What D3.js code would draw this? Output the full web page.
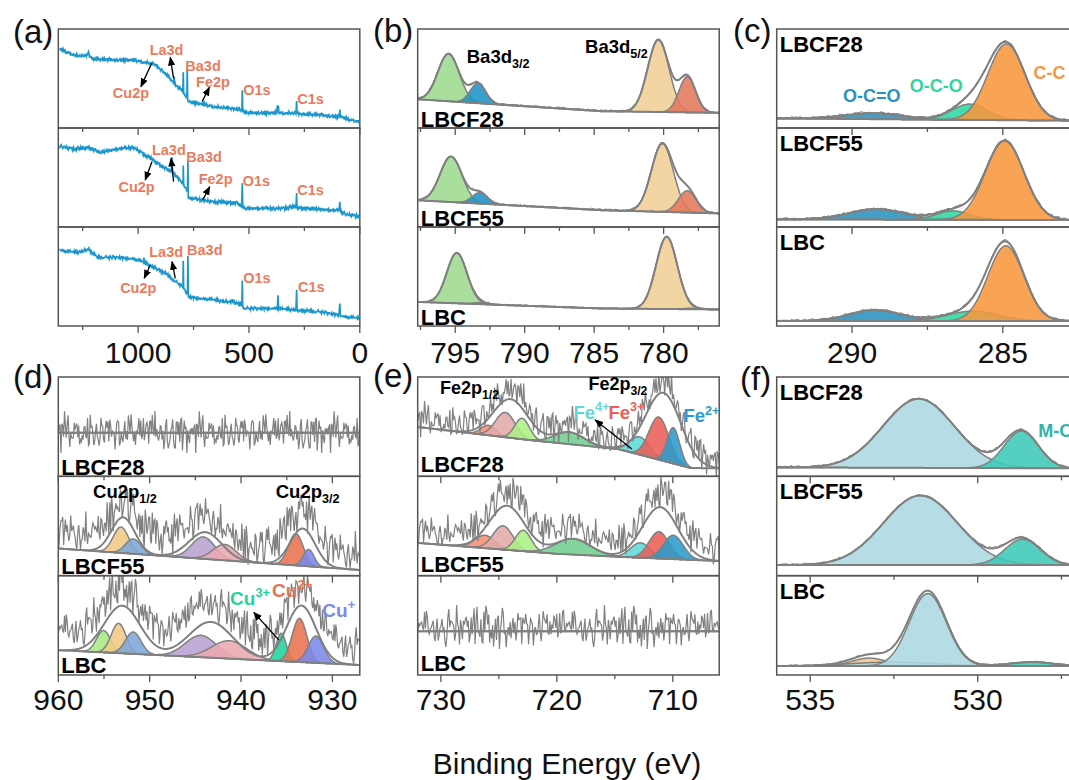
<!DOCTYPE html>
<html>
<head>
<meta charset="utf-8">
<script src="https://cdn.jsdelivr.net/npm/d3@7"></script>
<style>
body { margin: 0; background: #fff; }
svg { display: block; font-family: Arial, "Liberation Sans", sans-serif; }
</style>
</head>
<body>
<svg id="chart" width="1069" height="780"></svg>
<script>
// samples, top to bottom in every panel
var samples = ["LBCF28", "LBCF55", "LBC"];
var panelNames = ["(a)", "(b)", "(c)", "(d)", "(e)", "(f)"];

// binding energy axes (eV), high -> low
var aDomain = [1360, 0], aTicks = [1000, 500, 0], aMinor = [1250, 750, 250];
var bDomain = [797.7, 776], bTicks = [795, 790, 785, 780], bMinor = [797.5, 792.5, 787.5, 782.5, 777.5];
var cDomain = [292.5, 282.5], cTicks = [290, 285], cMinor = [287.5];
var dDomain = [960, 927], dTicks = [960, 950, 940, 930], dMinor = [955, 945, 935];
var eDomain = [732, 706], eTicks = [730, 720, 710], eMinor = [725, 715];
var fDomain = [536, 527], fTicks = [535, 530], fMinor = [532.5, 527.5];

// (a) survey spectra: [eV, intensity] (intensity 0-100 inside each strip)
var surveyLBCF28 = [[1354,80],[1320,76.3],[1290,74],[1275,73],[1230,73],[1224,77],[1218,72],[1200,69.7],[1150,69],[1095,68.7],[1019,68.7],[974,66.3],[929,64.7],[891,58],[854,49.7],[840,45],[837,52],[834,44],[831,43],[805,38.5],[798,37],[796.4,56.3],[794.5,35],[780,31],[778.4,59.7],[776.5,29],[770,27],[763,26.3],[705,24],[658,21.3],[568,19.7],[537,18],[532,18],[530,38],[528,16.5],[515,15.3],[374,15.3],[372,22.5],[367,22.5],[365,15],[288,15],[285,27.3],[283,14.5],[176,13],[94,11.3],[90,18.7],[88,12],[56,8.7],[30,7.5],[0,6.3]];
var surveyLBCF55 = [[1354,82],[1320,80],[1275,78.7],[1222,80.3],[1170,75.3],[1095,78.7],[1019,80.3],[974,73.7],[929,67],[884,60.3],[850,56],[847,70],[844,55],[800,44.5],[797,43.7],[796.4,62],[794.5,42],[777,36],[775.4,67],[773.5,30],[763,28.7],[703,27],[658,25.3],[553,24.3],[533,21],[530,44.3],[528,20],[515,18.7],[372,18.7],[288,20.3],[285,34.3],[283,19.5],[176,17.7],[94,16.3],[90,25.3],[88,15.5],[56,12.7],[0,11]];
var surveyLBC = [[1354,76.7],[1320,75],[1275,74.3],[1222,77.7],[1185,69.3],[1095,69.3],[1019,67.7],[976,64.3],[974,69],[972,64],[929,59.3],[884,54.3],[839,46],[800,40],[797.5,39.3],[796.4,66],[794.5,37],[777,33],[775.4,71],[773.5,30],[771,29.3],[718,27.7],[583,24.3],[570,26],[566,23.5],[537,21],[532,20.5],[530,46],[528,19],[515,17.7],[372,17.7],[369,31],[366,17],[288,16.5],[285,36.7],[283,15.8],[176,14.3],[94,11],[90,22.7],[88,10.5],[56,8.7],[0,7.7]];
var surveys = [surveyLBCF28, surveyLBCF55, surveyLBC];
// survey annotations: [text, eV, y] and arrows [eV1, y1, eV2, y2] (head at 2)
var aNotes = [
  [["Cu2p",1114,30],["La3d",948,73.7],["Ba3d",787,57.9],["Fe2p",738.6,41.7],["O1s",526,33.3],["C1s",281.8,24.2]],
  [["Cu2p",1088.6,35.4],["La3d",937.6,72.7],["Ba3d",782.4,66],["Fe2p",726.8,43.4],["O1s",527.8,41.4],["C1s",281.8,32.8]],
  [["Cu2p",1081,33],["La3d",949.8,69.4],["Ba3d",779.3,71.4],["O1s",526,43.9],["C1s",279.1,34.3]]
];
var aArrows = [
  [[937.6,66,987.3,41.8],[839.9,50.2,854.8,71.4],[711.4,26.6,678.4,41.1]],
  [[937.6,66,967.9,47.5],[839.9,45.8,851.6,69.4],[708.7,27.3,677,40.7]],
  [[945.2,61.6,972.4,48.2],[832.2,48.2,847.1,64.9]]
];

// fitted components: [centre eV, height, FWHM eV, species]
var bPeaks = [
  [[795.48,48,1.8,"Ba1"],[793.37,20,1.3,"Ba2"],[780.38,73,1.8,"Ba3"],[778.3,36,1.4,"Ba4"]],
  [[795.3,46,1.85,"Ba1"],[793.24,11,1.3,"Ba2"],[780.09,69,1.85,"Ba3"],[778.3,22,1.5,"Ba4"]],
  [[794.88,51,1.7,"Ba1"],[793.2,1.5,1.2,"Ba2"],[779.78,73,1.8,"Ba3"],[778,1,1.2,"Ba4"]]
];
var bBase = [[[797.7,29],[784.5,17],[776,15.3]], [[797.7,27],[784.5,17],[776,13.7]], [[797.7,24.3],[784.5,17.7],[776,16.7]]];

var cPeaks = [
  [[289.3,6,2.2,"O-C=O"],[286.1,16,1.4,"O-C-O"],[284.88,77,1.45,"C-C"]],
  [[289.19,10.5,2.2,"O-C=O"],[286.65,9,1.3,"O-C-O"],[284.94,80,1.5,"C-C"]],
  [[289.25,11,2.0,"O-C=O"],[285.99,10,2.0,"O-C-O"],[284.9,76,1.4,"C-C"]]
];
var cBase = [[[292.5,9.7],[282.5,7.3]], [[292.5,7.7],[282.5,7]], [[292.5,5],[282.5,5]]];

var dPeaks = [
  [],
  [[953.14,26,2.0,"p1b"],[951.8,15,2.0,"p1c"],[944.13,22,3.0,"s1"],[941.8,16,3.0,"s2"],[934,32,1.9,"Cu2+"],[932.6,17,1.4,"Cu+"]],
  [[955.05,22,1.8,"p1a"],[953.4,30,1.9,"p1b"],[951.8,22,2.0,"p1c"],[944.4,22,4.0,"s1"],[941.3,18,4.5,"s2"],[935.6,28,1.3,"Cu3+"],[933.6,44,1.9,"Cu2+"],[931.8,27,2.0,"Cu+"]]
];
var dEnvelope = [
  [],
  [[952.9,36,3.0],[943.9,27,4.2],[933.25,37.6,3.2]],
  [[953.0,48,4.6],[943.3,36,5.6],[933.4,57,3.8]]
];
var dBase = [[[960,44],[927,44]], [[960,27.4],[927,5.7]], [[960,25],[927,10]]];

var ePeaks = [
  [[725.9,10,1.5,"p1a"],[724.45,25,2.0,"p1b"],[723.0,21,1.5,"p1c"],[718.9,12,3.0,"sat"],[712.85,18,2.0,"Fe4+"],[711.2,43,2.0,"Fe3+"],[709.96,36,1.3,"Fe2+"]],
  [[726.2,13,2.0,"p1a"],[724.65,24,2.0,"p1b"],[722.9,21,1.6,"p1c"],[718.6,16,3.5,"sat"],[712.8,15,2.0,"Fe4+"],[711.2,27,2.0,"Fe3+"],[709.96,24,2.0,"Fe2+"]],
  []
];
var eEnvelope = [
  [[724.0,39,3.5],[718.9,12,3.0],[710.8,68.6,3.6]],
  [[724.3,44.5,3.6],[718.6,16,3.5],[711.1,51.8,3.6]],
  []
];
var eBase = [[[732,49.7],[722.3,36.4],[714.7,27.4],[708.5,8.4],[706,8]], [[732,33],[720,22],[714.7,19],[706,14.7]], [[732,44],[706,44]]];

var fPeaks = [
  [[531.76,69.5,2.5,"O-ads"],[528.7,37.4,1.2,"M-O"]],
  [[531.71,70,2.6,"O-ads"],[528.66,26,1.25,"M-O"]],
  [[533.24,8,1.2,"H2O"],[532.5,4,3.0,"O-ads"],[531.49,73,1.3,"O-ads"],[528.38,4,1.5,"M-O"]]
];
var fBase = [[[536,9],[527,8]], [[536,10.7],[527,10.7]], [[536,9],[527,9]]];

// raw-data scatter: [amplitude, lift above fit]
var bRaw = [[1.2,0.6],[1.2,0.5],[1.0,0.3]];
var cRaw = [[1.6,0.5],[1.6,0.5],[1.6,0.5]];
var dRaw = [[24,0],[25,18],[24,20]];
var eRaw = [[21,8],[21,13],[25,4]];
var fRaw = [[1.3,0.6],[1.3,0.5],[1.0,0.3]];

// measured residual sequence, reused for the raw traces
var noise = [0.42,-0.61,0.15,0.88,-0.33,-0.92,0.27,0.64,-0.18,0.71,-0.55,0.09,-0.81,0.36,0.97,-0.12,-0.47,0.58,-0.76,0.21,0.49,-0.95,0.66,-0.08,0.31,-0.39,0.83,-0.67,0.05,0.74,-0.24,-0.86,0.53,0.12,-0.58,0.93,-0.29,0.38,-0.71,0.17,0.62,-0.44,-0.03,0.79,-0.91,0.26,0.45,-0.15,-0.68,0.89,-0.36,0.07,0.56,-0.82,0.33,-0.21,0.69,-0.52,0.94,-0.11,-0.74,0.41,0.19,-0.63,0.85,-0.27,-0.06,0.59,-0.97,0.35,0.72,-0.41,0.14,-0.84,0.51,0.02,-0.57,0.78,-0.19,0.46,-0.73,0.23,0.91,-0.49,-0.13,0.67,-0.88,0.29,0.54,-0.35,0.08,-0.65,0.96,-0.22,0.39,-0.79,0.18,0.61,-0.46,-0.01,0.84,-0.59,0.32,-0.93,0.47,0.13,-0.37,0.75,-0.69,0.24,0.57,-0.16,-0.83,0.43,0.92,-0.26,0.04,-0.54,0.81,-0.72,0.37,0.11,-0.45,0.68,-0.98,0.28,0.63,-0.09,-0.64,0.52,-0.31,0.87,-0.5,0.16,0.73,-0.87,0.22,-0.14,0.58,-0.62,0.95,-0.34,0.03,0.48,-0.78,0.34,-0.04,0.7,-0.53,0.2,-0.89,0.44];

// peak labels: [text, subscript, eV, y, sample]
var bLabels = [["Ba3d","3/2",794.17,65.4,0],["Ba3d","5/2",785.65,75.5,0]];
var cLabels = [["O-C=O",290.3,26.6,0],["O-C-O",288.09,36.4,0],["C-C",283.98,49.5,0]];
var dLabels = [["Cu2p","1/2",956.2,77.9,1],["Cu2p","3/2",936.2,77.9,1]];
var dIons = [["Cu","3+",941.2,70.5,2,"Cu3+"],["Cu","2+",936.6,78.5,2,"Cu2+"],["Cu","+",931.1,58.4,2,"Cu+"]];
var dArrow = [935.86,35.2,938.6,63.1,2];
var eLabels = [["Fe2p","1/2",730.08,83,0],["Fe2p","3/2",717.28,86.5,0]];
var eIons = [["Fe","4+",718.57,58,0,"Fe4+"],["Fe","3+",715.55,58,0,"Fe3+"],["Fe","2+",709.08,54.4,0,"Fe2+"]];
var eArrow = [713.53,27.6,716.7,56.8,0];
var fLabels = [["M-O",528.19,40,0]];

// colours
var surveyBlue = "#1b97cd", noteOrange = "#eb7b5d";
var bColors = {"Ba1":"#9dd98f","Ba2":"#1c93c8","Ba3":"#f1cf97","Ba4":"#e4775d"};
var cColors = {"O-C=O":"#2a92bf","O-C-O":"#2fd6a0","C-C":"#f8963c"};
var dColors = {"p1a":"#a9eb84","p1b":"#f0ca86","p1c":"#7ea7d8","s1":"#b8a2cf","s2":"#eaa8b0","Cu3+":"#20d49d","Cu2+":"#e8724f","Cu+":"#7b88ea"};
var eColors = {"p1a":"#f7906f","p1b":"#e3aaa8","p1c":"#acef84","sat":"#6fcf8f","Fe4+":"#5fd8d8","Fe3+":"#ec5d57","Fe2+":"#2b9bcb"};
var fColors = {"O-ads":"#acd8e3","M-O":"#3ec9b7","H2O":"#f9c38c"};
var fLabelColor = "#2bb5a5";

// ---------------- layout ----------------
var svg = d3.select("#chart");
var gray = "#808080", frameGray = "#555";
var colX = [58.3, 417.7, 776.7], panelW = 301.5;
var rowTop = [29, 377], subH = [99, 99.33];
var tickLabelY = [362.5, 710];
var N = noise.length;

svg.append("defs").append("marker")
  .attr("id", "arrow").attr("viewBox", "0 0 10 10")
  .attr("refX", 9).attr("refY", 5)
  .attr("markerWidth", 7).attr("markerHeight", 7)
  .attr("orient", "auto")
  .append("path").attr("d", "M0,1 L10,5 L0,9 z").attr("fill", "#000");

function gauss(p, x) {
  var d = x - p[0];
  return p[1] * Math.exp(-4 * Math.LN2 * d * d / (p[2] * p[2]));
}

// two interleaved reads of the residual table so the pattern does not repeat
function resid(i, off) {
  return 0.62 * noise[(i * 7 + off) % N] + 0.38 * noise[(i * 11 + off * 3 + 5) % N];
}

function strip(col, row, s) {
  var top = rowTop[row] + s * subH[row];
  return { x0: colX[col], x1: colX[col] + panelW, top: top, bottom: top + subH[row] };
}

var clipCount = 0;
function makeClip(st) {
  var id = "clip" + (clipCount++);
  svg.select("defs").append("clipPath").attr("id", id)
    .append("rect").attr("x", st.x0).attr("y", st.top)
    .attr("width", st.x1 - st.x0).attr("height", st.bottom - st.top);
  return "url(#" + id + ")";
}

function drawFrameAndTicks(col, row, x, ticks, minor) {
  for (var s = 0; s < 3; s++) {
    var st = strip(col, row, s);
    svg.append("rect").attr("x", st.x0).attr("y", st.top)
      .attr("width", st.x1 - st.x0).attr("height", st.bottom - st.top)
      .attr("fill", "none").attr("stroke", frameGray).attr("stroke-width", 1.5);
    svg.append("g").selectAll("line").data(ticks).enter().append("line")
      .attr("x1", function(d) { return x(d); }).attr("x2", function(d) { return x(d); })
      .attr("y1", st.bottom).attr("y2", st.bottom + 7)
      .attr("stroke", frameGray).attr("stroke-width", 1.3);
    svg.append("g").selectAll("line").data(minor).enter().append("line")
      .attr("x1", function(d) { return x(d); }).attr("x2", function(d) { return x(d); })
      .attr("y1", st.bottom).attr("y2", st.bottom + 4)
      .attr("stroke", frameGray).attr("stroke-width", 1.3);
  }
  svg.append("g").selectAll("text").data(ticks).enter().append("text")
    .attr("x", function(d) { return x(d); }).attr("y", tickLabelY[row])
    .attr("text-anchor", "middle").attr("font-size", 30).attr("fill", "#111")
    .text(function(d) { return d; });
}

function richText(x, y, main, sub, sup, size, color) {
  var t = svg.append("text").attr("x", x).attr("y", y)
    .attr("font-size", size).attr("font-weight", "bold").attr("fill", color);
  t.append("tspan").text(main);
  if (sub) t.append("tspan").attr("font-size", size * 0.68).attr("dy", size * 0.28).text(sub);
  if (sup) t.append("tspan").attr("font-size", size * 0.68).attr("dy", -size * 0.42).text(sup);
  return t;
}

function arrow(x1, y1, x2, y2) {
  svg.append("line").attr("x1", x1).attr("y1", y1).attr("x2", x2).attr("y2", y2)
    .attr("stroke", "#000").attr("stroke-width", 1.3).attr("marker-end", "url(#arrow)");
}

// ---------------- (a) survey ----------------
(function() {
  var x = d3.scaleLinear().domain(aDomain).range([colX[0], colX[0] + panelW]);
  drawFrameAndTicks(0, 0, x, aTicks, aMinor);
  surveys.forEach(function(pts, s) {
    var st = strip(0, 0, s);
    var y = d3.scaleLinear().domain([0, 100]).range([st.bottom, st.top]);
    var trend = d3.scaleLinear().domain(pts.map(function(d) { return d[0]; }))
      .range(pts.map(function(d) { return d[1]; }));
    var grid = d3.range(1353, 1, -2.1).map(function(e, i) {
      return [e, trend(e) + 2.0 * resid(i, s * 31)];
    });
    var all = pts.concat(grid).sort(function(a, b) { return b[0] - a[0]; });
    svg.append("path").attr("clip-path", makeClip(st))
      .attr("d", d3.line().x(function(d) { return x(d[0]); }).y(function(d) { return y(d[1]); })(all))
      .attr("fill", "none").attr("stroke", surveyBlue).attr("stroke-width", 1.7);
    aArrows[s].forEach(function(a) { arrow(x(a[0]), y(a[1]), x(a[2]), y(a[3])); });
    svg.append("g").selectAll("text").data(aNotes[s]).enter().append("text")
      .attr("x", function(d) { return x(d[1]); }).attr("y", function(d) { return y(d[2]); })
      .attr("font-size", 14.5).attr("font-weight", "bold").attr("fill", noteOrange)
      .text(function(d) { return d[0]; });
  });
})();

// ---------------- fitted panels ----------------
function drawFitPanel(cfg) {
  var x = d3.scaleLinear().domain(cfg.domain).range([colX[cfg.col], colX[cfg.col] + panelW]);
  var lo = Math.min(cfg.domain[0], cfg.domain[1]), hi = Math.max(cfg.domain[0], cfg.domain[1]);
  var ys = [];
  for (var s = 0; s < 3; s++) {
    var st = strip(cfg.col, cfg.row, s);
    var y = d3.scaleLinear().domain([0, 100]).range([st.bottom, st.top]);
    ys.push(y);
    var bl = cfg.base[s];
    var base = d3.scaleLinear().domain(bl.map(function(d) { return d[0]; })).range(bl.map(function(d) { return d[1]; }));
    var peaks = cfg.peaks[s];
    var hump = cfg.env ? cfg.env[s] : peaks;
    var env = function(e) { return base(e) + d3.sum(hump, function(p) { return gauss(p, e); }); };
    var g = svg.append("g").attr("clip-path", makeClip(st));

    peaks.forEach(function(p) {
      var a = Math.max(lo, p[0] - 1.8 * p[2]), b = Math.min(hi, p[0] + 1.8 * p[2]);
      var xs = d3.range(a, b, (b - a) / 120).concat([b]);
      g.append("path")
        .attr("d", d3.area().x(function(e) { return x(e); })
          .y0(function(e) { return y(base(e)); })
          .y1(function(e) { return y(base(e) + gauss(p, e)); })(xs))
        .attr("fill", cfg.colors[p[3]]).attr("fill-opacity", 0.88)
        .attr("stroke", gray).attr("stroke-width", 1.5);
    });

    var full = d3.range(lo, hi, (hi - lo) / 400).concat([hi]);
    var ln = d3.line().x(function(d) { return x(d[0]); }).y(function(d) { return y(d[1]); });
    g.append("path").attr("d", ln(full.map(function(e) { return [e, base(e)]; })))
      .attr("fill", "none").attr("stroke", gray).attr("stroke-width", 2);

    var raw = cfg.raw[s], n = cfg.rawN;
    for (var k = 0; k < cfg.rawLines; k++) {
      var rp = d3.range(n + 1).map(function(i) {
        var e = hi - (hi - lo) * i / n;
        return [e, env(e) + raw[1] + raw[0] * resid(i, s * 53 + k * 19)];
      });
      g.append("path").attr("d", ln(rp)).attr("fill", "none")
        .attr("stroke", gray).attr("stroke-width", cfg.rawWidth);
    }
    g.append("path").attr("d", ln(full.map(function(e) { return [e, env(e)]; })))
      .attr("fill", "none").attr("stroke", gray).attr("stroke-width", 2);

    // sample label
    var lab = svg.append("text").attr("x", st.x0 + 3)
      .attr("font-size", 22).attr("font-weight", "bold").attr("fill", "#000").text(samples[s]);
    if (cfg.labelTop) lab.attr("y", st.top + 23);
    else lab.attr("y", st.bottom - cfg.labelGap);
  }
  drawFrameAndTicks(cfg.col, cfg.row, x, cfg.ticks, cfg.minor);
  return { x: x, ys: ys };
}

var pb = drawFitPanel({col: 1, row: 0, domain: bDomain, ticks: bTicks, minor: bMinor, base: bBase, peaks: bPeaks,
  env: null, colors: bColors, raw: bRaw, rawN: 170, rawLines: 1, rawWidth: 1, labelTop: false, labelGap: 1});
bLabels.forEach(function(l) { richText(pb.x(l[2]), pb.ys[l[4]](l[3]), l[0], l[1], null, 18.5, "#000"); });

var pc = drawFitPanel({col: 2, row: 0, domain: cDomain, ticks: cTicks, minor: cMinor, base: cBase, peaks: cPeaks,
  env: null, colors: cColors, raw: cRaw, rawN: 140, rawLines: 2, rawWidth: 1, labelTop: true});
cLabels.forEach(function(l) {
  svg.append("text").attr("x", pc.x(l[1])).attr("y", pc.ys[l[3]](l[2]))
    .attr("font-size", 18).attr("font-weight", "bold").attr("fill", cColors[l[0]]).text(l[0]);
});

var pd = drawFitPanel({col: 0, row: 1, domain: dDomain, ticks: dTicks, minor: dMinor, base: dBase, peaks: dPeaks,
  env: dEnvelope, colors: dColors, raw: dRaw, rawN: 340, rawLines: 1, rawWidth: 1.2, labelTop: false, labelGap: 1.5});
dLabels.forEach(function(l) { richText(pd.x(l[2]), pd.ys[l[4]](l[3]), l[0], l[1], null, 18.5, "#000"); });
arrow(pd.x(dArrow[0]), pd.ys[dArrow[4]](dArrow[1]), pd.x(dArrow[2]), pd.ys[dArrow[4]](dArrow[3]));
dIons.forEach(function(l) { richText(pd.x(l[2]), pd.ys[l[4]](l[3]), l[0], null, l[1], 19, dColors[l[5]]); });

var pe = drawFitPanel({col: 1, row: 1, domain: eDomain, ticks: eTicks, minor: eMinor, base: eBase, peaks: ePeaks,
  env: eEnvelope, colors: eColors, raw: eRaw, rawN: 310, rawLines: 1, rawWidth: 1.2, labelTop: false, labelGap: 4});
eLabels.forEach(function(l) { richText(pe.x(l[2]), pe.ys[l[4]](l[3]), l[0], l[1], null, 18, "#000"); });
arrow(pe.x(eArrow[0]), pe.ys[eArrow[4]](eArrow[1]), pe.x(eArrow[2]), pe.ys[eArrow[4]](eArrow[3]));
eIons.forEach(function(l) { richText(pe.x(l[2]), pe.ys[l[4]](l[3]), l[0], null, l[1], 18.5, eColors[l[5]]); });

var pf = drawFitPanel({col: 2, row: 1, domain: fDomain, ticks: fTicks, minor: fMinor, base: fBase, peaks: fPeaks,
  env: null, colors: fColors, raw: fRaw, rawN: 150, rawLines: 1, rawWidth: 1, labelTop: true});
fLabels.forEach(function(l) {
  svg.append("text").attr("x", pf.x(l[1])).attr("y", pf.ys[l[3]](l[2]))
    .attr("font-size", 18).attr("font-weight", "bold").attr("fill", fLabelColor).text(l[0]);
});

// panel letters
var letterPos = [[13, 43], [373, 42], [733, 42], [13, 388], [373, 387], [740, 390]];
panelNames.forEach(function(n, i) {
  svg.append("text").attr("x", letterPos[i][0]).attr("y", letterPos[i][1])
    .attr("font-size", 33).attr("fill", "#111").text(n);
});

// shared axis title
svg.append("text").attr("x", 567).attr("y", 774).attr("text-anchor", "middle")
  .attr("font-size", 30).attr("fill", "#111").text("Binding Energy (eV)");
</script>
</body>
</html>
